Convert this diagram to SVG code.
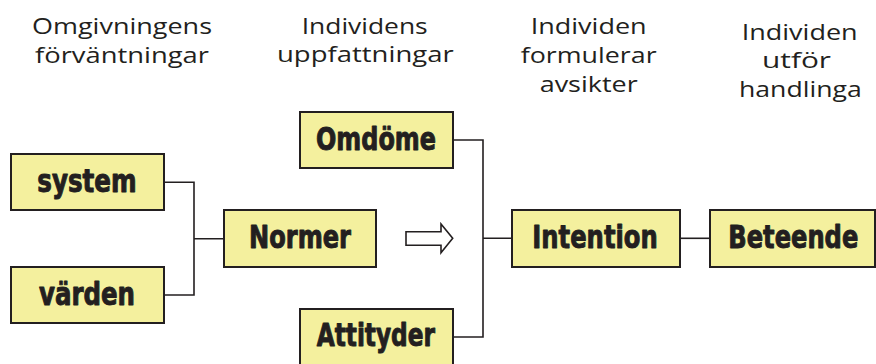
<svg xmlns="http://www.w3.org/2000/svg" width="876" height="364" viewBox="0 0 876 364">
<style>
.box{fill:#f4f09e;stroke:#231f20;stroke-width:2}
.lbl{font-family:"Liberation Sans Narrow","DejaVu Sans Condensed","DejaVu Sans",sans-serif;font-stretch:condensed;font-weight:bold;font-size:32px;fill:#231f20;stroke:#231f20;stroke-width:0.9;stroke-linejoin:round}
.hdr{font-family:"Open Sans","Noto Sans",sans-serif;font-size:22.5px;fill:#231f20}
.con{fill:none;stroke:#231f20;stroke-width:1.6}
</style>
<rect width="876" height="364" fill="#ffffff"/>
<g id="headers">
<text class="hdr" x="32" y="34.3" textLength="180" lengthAdjust="spacingAndGlyphs">Omgivningens</text>
<text class="hdr" x="35" y="62.5" textLength="174" lengthAdjust="spacingAndGlyphs">förväntningar</text>
<text class="hdr" x="301.7" y="34" textLength="126" lengthAdjust="spacingAndGlyphs">Individens</text>
<text class="hdr" x="277" y="62.3" textLength="176.7" lengthAdjust="spacingAndGlyphs">uppfattningar</text>
<text class="hdr" x="530.7" y="34.3" textLength="116" lengthAdjust="spacingAndGlyphs">Individen</text>
<text class="hdr" x="520.7" y="63" textLength="136" lengthAdjust="spacingAndGlyphs">formulerar</text>
<text class="hdr" x="539.7" y="91.7" textLength="98" lengthAdjust="spacingAndGlyphs">avsikter</text>
<text class="hdr" x="741.7" y="40" textLength="116" lengthAdjust="spacingAndGlyphs">Individen</text>
<text class="hdr" x="762" y="68.3" textLength="69" lengthAdjust="spacingAndGlyphs">utför</text>
<text class="hdr" x="739" y="96.7" textLength="122.7" lengthAdjust="spacingAndGlyphs">handlinga</text>
</g>
<g id="connectors">
<path class="con" d="M164 182.3 H194 V295 H164 M194 238.7 H224"/>
<path class="con" d="M453 140 H483 V337 H453 M483 238.3 H512"/>
<path class="con" d="M680 238.3 H710"/>
<polygon points="406,231.7 441,231.7 441,224 452.7,238.3 441,252.7 441,245.3 406,245.3" fill="#ffffff" stroke="#231f20" stroke-width="1.6" stroke-linejoin="miter"/>
</g>
<g id="system">
<rect class="box" x="11" y="154" width="153" height="56"/>
<text class="lbl" x="37.3" y="192.3" textLength="99.3" lengthAdjust="spacingAndGlyphs">system</text>
</g>
<g id="varden">
<rect class="box" x="11" y="267" width="153" height="56"/>
<text class="lbl" x="39" y="305" textLength="96" lengthAdjust="spacingAndGlyphs">värden</text>
</g>
<g id="normer">
<rect class="box" x="224" y="210" width="152" height="57"/>
<text class="lbl" x="249" y="248.3" textLength="102" lengthAdjust="spacingAndGlyphs">Normer</text>
</g>
<g id="omdome">
<rect class="box" x="300" y="112" width="153" height="56"/>
<text class="lbl" x="316" y="150" textLength="120" lengthAdjust="spacingAndGlyphs">Omdöme</text>
</g>
<g id="attityder">
<rect class="box" x="300" y="309" width="153" height="57"/>
<text class="lbl" x="316.7" y="345.7" textLength="118.3" lengthAdjust="spacingAndGlyphs">Attityder</text>
</g>
<g id="intention">
<rect class="box" x="512" y="210" width="168" height="57"/>
<text class="lbl" x="532.3" y="248.3" textLength="125.4" lengthAdjust="spacingAndGlyphs">Intention</text>
</g>
<g id="beteende">
<rect class="box" x="710" y="210" width="165" height="57"/>
<text class="lbl" x="728.3" y="248" textLength="130" lengthAdjust="spacingAndGlyphs">Beteende</text>
</g>
</svg>
